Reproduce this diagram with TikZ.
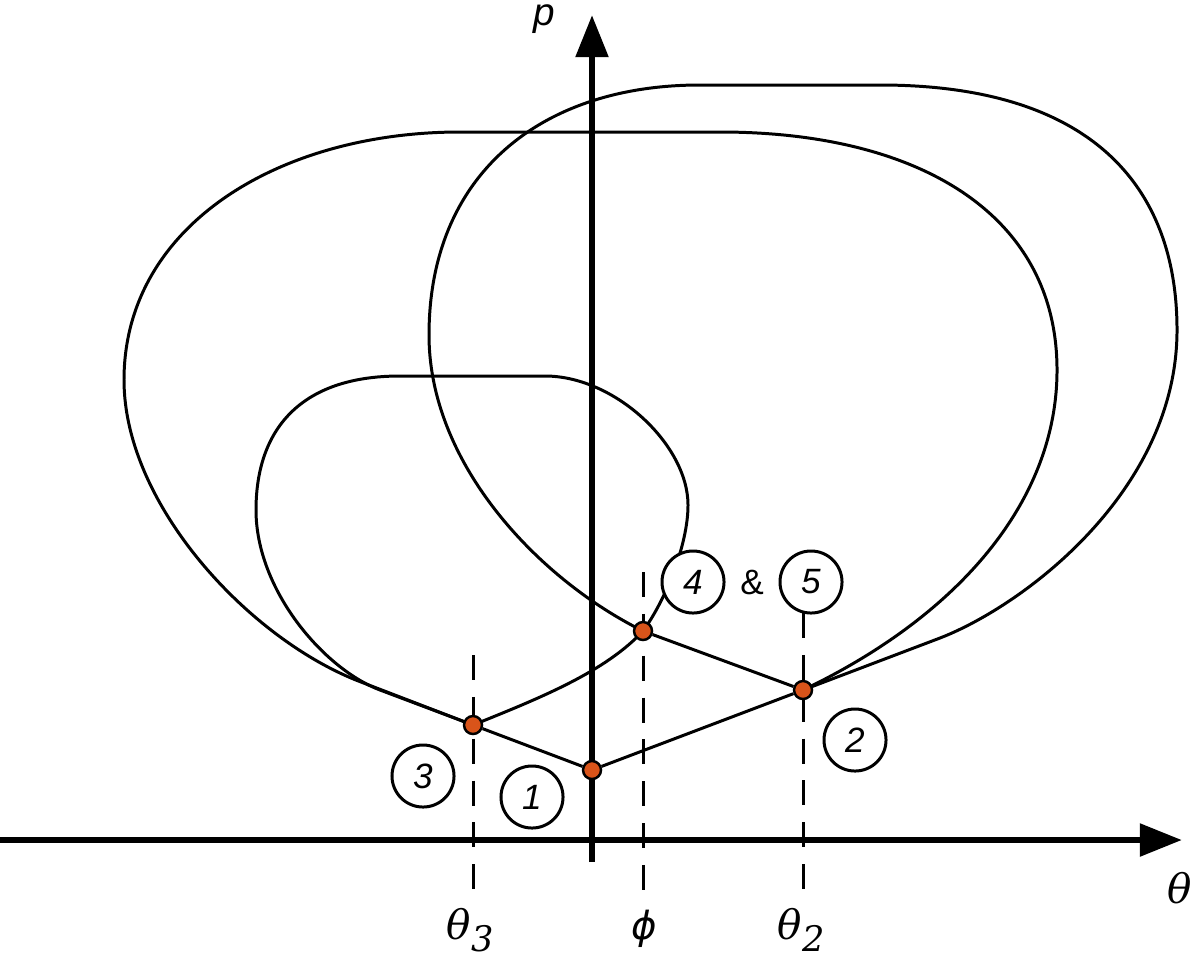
\documentclass[tikz,border=0pt]{standalone}
\usepackage{fontspec}
\setmainfont{Liberation Sans}
\newfontfamily\dvsans{DejaVu Sans}
\newfontfamily\dvserif{DejaVu Serif}
\usetikzlibrary{arrows.meta}
\definecolor{dotorange}{RGB}{217,84,26}
\newcommand{\digfont}{\fontsize{10}{12}\selectfont\itshape}
\newcommand{\thfont}{\fontsize{11.5}{13}\selectfont\dvserif\itshape}
\begin{document}
\begin{tikzpicture}[x=0.01cm,y=-0.01cm,
  curve/.style={line width=0.85pt, line join=round},
  axis/.style={line width=1.9pt, -{Triangle[length=12pt,width=9pt]}},
  guide/.style={line width=0.85pt, dash pattern=on 7.1pt off 4.8pt},
  pt/.style={circle, draw, line width=0.7pt, fill=dotorange, minimum size=0.18cm, inner sep=0pt},
  tag/.style={circle, draw, line width=0.85pt, fill=white, minimum size=0.62cm, inner sep=0pt, font=\digfont},
  lab/.style={inner sep=0pt}
]
\useasboundingbox (0,0) rectangle (1192,957);

% key points
\coordinate (c1) at (592,770);
\coordinate (c2) at (803,690);
\coordinate (c3) at (473,725);
\coordinate (c4) at (643,631);

% small loop
\draw[curve] (c3) .. controls (540,698) and (605,672) .. (c4)
  .. controls (665,601) and (688,545) .. (688,505)
  .. controls (688,445) and (615,376) .. (545,376)
  -- (400,376)
  .. controls (300,376) and (256,430) .. (256,510)
  .. controls (256,590) and (324,669) .. (380,690)
  -- (c3);

% big left loop
\draw[curve] (c3) -- (361,682)
  .. controls (250,640) and (124,505) .. (124,380)
  .. controls (124,225) and (280,132) .. (460,132)
  -- (720,132)
  .. controls (920,132) and (1057,215) .. (1057,370)
  .. controls (1057,500) and (960,615) .. (c2);

% big right loop
\draw[curve] (c4) .. controls (540,580) and (429,465) .. (429,335)
  .. controls (429,175) and (540,85) .. (700,85)
  -- (880,85)
  .. controls (1090,85) and (1177,185) .. (1177,330)
  .. controls (1177,490) and (1025,605) .. (940,638)
  -- (c2);

% axes
\coordinate (xs) at (0,840);
\coordinate (xe) at (1182,840);
\coordinate (ys) at (592,862);
\coordinate (ye) at (592,15);
\draw[axis] (xs) -- (xe);
\draw[axis] (ys) -- (ye);

% dashed guides
\coordinate (g3t) at (473,655); \coordinate (g3b) at (473,890);
\coordinate (gft) at (643,572); \coordinate (gfb) at (643,890);
\coordinate (g2t) at (803,613); \coordinate (g2b) at (803,890);
\draw[guide] (g3t) -- (g3b);
\draw[guide] (gft) -- (gfb);
\draw[guide] (g2t) -- (g2b);

% dots
\node[pt] (d1) at (c1) {};
\node[pt] (d2) at (c2) {};
\node[pt] (d3) at (c3) {};
\node[pt] (d4) at (c4) {};

% straight segments
\draw[curve] (d3) -- (d1) -- (d2);
\draw[curve] (d4) -- (d2);

% tags
\node[tag] (t3) at (423,776) {3};
\node[tag] (t1) at (532,797) {1};
\node[tag] (t4) at (693,582) {4};
\node[tag] (t5) at (811,582) {5};
\node[tag] (t2) at (855,740) {2};
\node[lab, font=\fontsize{10}{12}\selectfont] (amp) at (752,582) {\&};

% axis labels
\node[lab] (plab) at (544,19) {\fontsize{11}{13}\selectfont\itshape p};
\node[lab] (thlab) at (1180,888) {\thfont θ};
\node[lab, anchor=base west] (th3) at (446,939) {\thfont θ\raisebox{-3.5pt}{\digfont 3}};
\node[lab] (philab) at (644,929) {\fontsize{11}{13}\selectfont\dvsans\itshape ϕ};
\node[lab, anchor=base west] (th2) at (777,939) {\thfont θ\raisebox{-3.5pt}{\digfont 2}};
\end{tikzpicture}
\end{document}
